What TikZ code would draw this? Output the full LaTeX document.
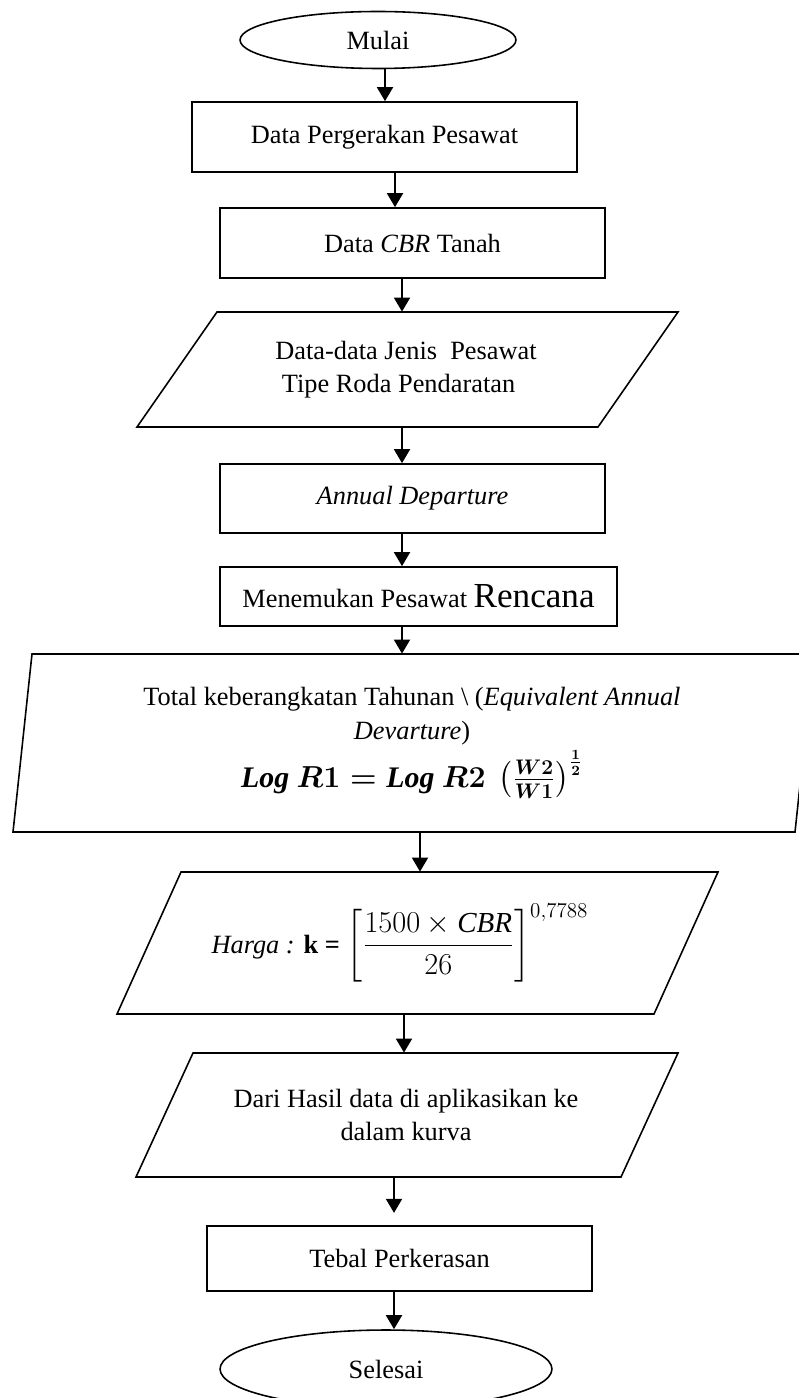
\documentclass[tikz,border=0pt]{standalone}
\usepackage{fontspec}
\setmainfont{Liberation Serif}
\usepackage{amsmath}
\usetikzlibrary{positioning,shapes.geometric,arrows.meta}

\begin{document}
\begin{tikzpicture}[x=0.02cm, y=-0.02cm,
    txt/.style={font=\fontsize{15}{19}\selectfont, inner sep=0pt},
    procbox/.style={txt, draw, line width=0.9pt, rectangle, minimum width=7.7cm, minimum height=1.4cm},
    terminal/.style={txt, draw, line width=0.9pt, ellipse},
    flow/.style={line width=1.4pt, -{Triangle[length=8pt, width=9pt]}}]
  \useasboundingbox (0,0) rectangle (798,1398);

  % Start and end
  \node[terminal, minimum width=5.52cm, minimum height=1.14cm] (mulai) at (378,40) {Mulai};
  \node[terminal, minimum width=6.64cm, minimum height=1.56cm] (selesai) at (386,1369) {Selesai};

  % Process boxes
  \node[procbox] (pergerakan) at (384.5,137) {Data Pergerakan Pesawat};
  \node[procbox] (cbr) at (412.5,243) {Data \textit{CBR} Tanah};
  \node[procbox, minimum height=1.38cm] (annual) at (412.5,498.5) {\textit{Annual Departure}};
  \node[procbox, minimum width=7.94cm, minimum height=1.18cm] (rencana) at (418.5,596.5)
    {Menemukan Pesawat {\fontsize{20}{20}\selectfont Rencana}};
  \node[procbox, minimum height=1.3cm] (tebal) at (399.5,1258.5) {Tebal Perkerasan};

  % Parallelograms: name/left of top side/right of top side/top/bottom/slant
  \foreach \nm/\xl/\xr/\yt/\yb/\sl in {jenis/217/678/312/427/80, ekivalen/32/814/654/832/19,
      harga/181/718/872/1014/64, kurva/193/678/1053/1177/57} {
    \draw[line width=0.9pt] (\xl,\yt) -- (\xr,\yt) -- (\xr-\sl,\yb) -- (\xl-\sl,\yb) -- cycle;
  }

  % Texts of the parallelograms (as high as the shape, for the connectors)
  \node[txt, align=left, minimum height=2.3cm] (jenis) at (406,369.5)
    {Data-data Jenis~~Pesawat\\~Tipe Roda Pendaratan};
  \node[txt, align=center, minimum height=3.56cm] (ekivalen) at (412,743)
    {Total keberangkatan Tahunan \textbackslash{} (\textit{Equivalent Annual}\\
     \textit{Devarture})\\[2pt]
     {\fontsize{17}{20}\selectfont\boldmath$\mathit{Log}\ R1 = \mathit{Log}\ R2\ \left(\frac{W2}{W1}\right)^{\frac{1}{2}}$}};
  \node[txt, minimum height=2.84cm] (harga) at (400,943)
    {\textit{Harga :} \textbf{k =} {\fontsize{16.5}{20}\selectfont$\left[\dfrac{1500\times \mathit{CBR}}{26}\right]^{0,7788}$}};
  \node[txt, align=center, minimum height=2.48cm] (kurva) at (406,1115)
    {Dari Hasil data di aplikasikan ke\\dalam kurva};

  % Connectors
  \foreach \a/\b/\x in {mulai/pergerakan/385, pergerakan/cbr/395, cbr/jenis/402, jenis/annual/402,
      annual/rencana/402, rencana/ekivalen/402, ekivalen/harga/420, harga/kurva/404, tebal/selesai/394} {
    \draw[flow] (\a.south -| \x,0) -- (\b.north -| \x,0);
  }
  \draw[flow, shorten >=7pt] (kurva.south -| 394,0) -- (tebal.north -| 394,0);
\end{tikzpicture}
\end{document}
